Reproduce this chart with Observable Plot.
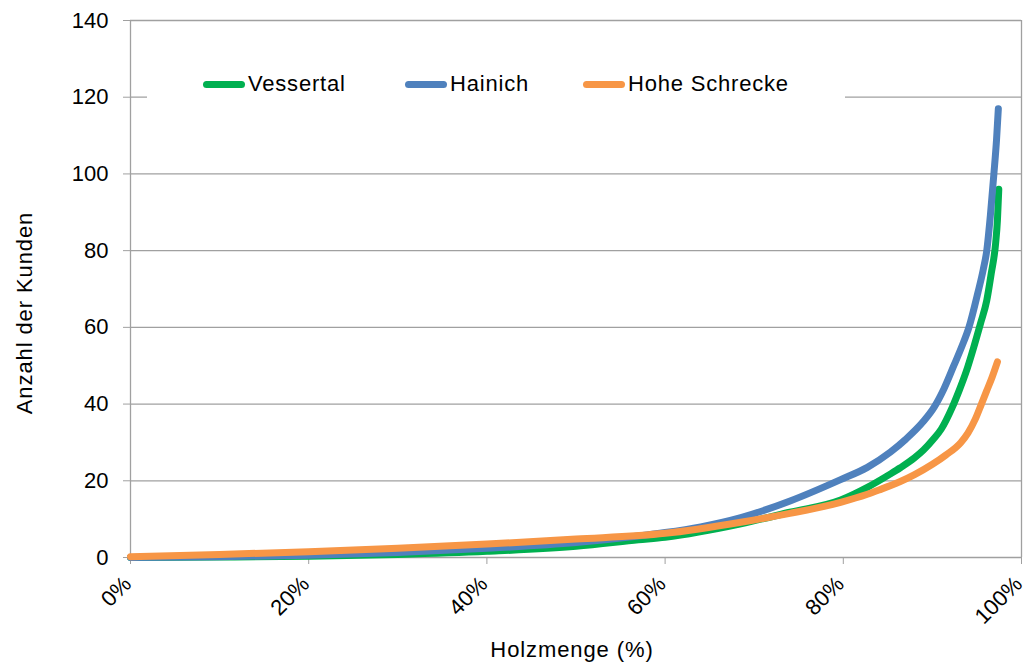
<!DOCTYPE html>
<html>
<head>
<meta charset="utf-8">
<script src="https://cdn.jsdelivr.net/npm/d3@7"></script>
<script src="https://cdn.jsdelivr.net/npm/@observablehq/plot@0.6"></script>
<style>
  html, body { margin: 0; padding: 0; background: #fff; }
  #wrap { position: relative; width: 1027px; height: 664px; font-family: "Liberation Sans", Arial, sans-serif; }
  #legend { position: absolute; left: 147px; top: 64px; width: 698px; height: 40px; background: #fff; }
  .item { position: absolute; top: 0; height: 40px; display: flex; align-items: center; font-size: 22px; letter-spacing: 0.8px; color: #000; }
  .sw { width: 42px; height: 7px; border-radius: 4px; margin-right: 3px; }
</style>
</head>
<body>
<div id="wrap"><div id="chart"></div><div id="legend"></div></div>
<script>
const seriesNames = ["Vessertal", "Hainich", "Hohe Schrecke"];
const seriesColors = ["#00B050", "#4F81BD", "#F79646"];

const vessertalX = [0, 10, 20, 30, 40, 50, 57, 60, 68.5, 74, 79.7, 82.7, 85.3, 86.4, 88, 89, 90.1, 91, 92.2, 93, 93.8, 94.6, 95.4, 96.1, 96.6, 97.1, 97.3, 97.45];
const vessertalY = [0, 0.1, 0.3, 0.8, 1.6, 2.9, 4.6, 5.3, 8.8, 11.8, 15.0, 18.3, 21.8, 23.4, 26.0, 28.0, 30.8, 33.5, 39, 43.5, 48.5, 54.5, 61, 67, 74, 82, 88, 96];

const hainichX = [0, 10, 20, 30, 40, 50, 57, 60, 64, 68.5, 74.1, 79.7, 82.7, 85.3, 87, 89, 90.2, 91.3, 92.4, 93.3, 94.1, 95.1, 95.7, 96.1, 96.5, 96.9, 97.2, 97.4];
const hainichY = [0, 0.2, 0.6, 1.3, 2.4, 3.9, 5.6, 6.5, 8.0, 10.4, 14.8, 20.3, 23.5, 27.5, 30.8, 35.5, 39.2, 44, 50, 55, 60, 69, 75, 80, 89, 100, 109, 117];

const schreckeX = [0, 10, 20, 30, 40, 50, 60, 68.5, 74, 79.7, 82.7, 84, 86.4, 88, 90, 91.5, 93.2, 94, 94.8, 95.5, 96.1, 96.7, 97.3];
const schreckeY = [0.2, 0.8, 1.5, 2.4, 3.5, 4.8, 6.3, 9.2, 11.5, 14.4, 16.5, 17.6, 19.8, 21.6, 24.3, 26.7, 30, 32.5, 36, 40, 43.5, 47, 51];

const xTicks = [0, 20, 40, 60, 80, 100];
const yTicks = [0, 20, 40, 60, 80, 100, 120, 140];

const data = [];
[[vessertalX, vessertalY], [hainichX, hainichY], [schreckeX, schreckeY]].forEach(([xs, ys], i) => {
  xs.forEach((x, j) => data.push({series: seriesNames[i], x, y: ys[j]}));
});

const gray = "#a0a0a0";

const chart = Plot.plot({
  width: 1027,
  height: 664,
  marginLeft: 130,
  marginRight: 6,
  marginTop: 20,
  marginBottom: 107,
  style: {fontFamily: "'Liberation Sans', Arial, sans-serif", fontSize: "22px", color: "#000", background: "#fff"},
  x: {domain: [0, 100]},
  y: {domain: [0, 140]},
  color: {domain: seriesNames, range: seriesColors},
  marks: [
    Plot.ruleY(yTicks.filter(d => d > 0), {stroke: gray, strokeWidth: 1.3}),
    Plot.ruleX([100], {stroke: gray, strokeWidth: 1.3}),
    Plot.ruleX([0], {stroke: gray, strokeWidth: 1.3}),
    Plot.ruleY([0], {stroke: gray, strokeWidth: 1.3}),
    Plot.axisY({ticks: yTicks, tickSize: 7, tickPadding: 15, stroke: gray, label: null}),
    Plot.axisX({ticks: xTicks, tickFormat: () => "", tickSize: 7, stroke: gray, label: null}),
    Plot.axisX({ticks: xTicks, tickFormat: d => d + "%", tickSize: 0, tickPadding: 23, tickRotate: -45, dx: -3, label: null}),
    Plot.line(data, {x: "x", y: "y", z: "series", stroke: "series", strokeWidth: 7, strokeLinecap: "round", strokeLinejoin: "round", curve: "monotone-x"})
  ]
});
document.getElementById("chart").appendChild(chart);

const svg = d3.select(chart);
svg.append("text")
  .attr("transform", "translate(24,313) rotate(-90)")
  .attr("text-anchor", "middle")
  .attr("dominant-baseline", "central")
  .attr("fill", "#000")
  .style("letter-spacing", "0.9px")
  .text("Anzahl der Kunden");
svg.append("text")
  .attr("x", 572)
  .attr("y", 649)
  .attr("text-anchor", "middle")
  .attr("dominant-baseline", "central")
  .attr("fill", "#000")
  .style("letter-spacing", "0.9px")
  .text("Holzmenge (%)");

const legend = document.getElementById("legend");
const itemLefts = [56, 258, 436];
seriesNames.forEach((name, i) => {
  const it = document.createElement("div");
  it.className = "item";
  it.style.left = itemLefts[i] + "px";
  const sw = document.createElement("div");
  sw.className = "sw";
  sw.style.background = seriesColors[i];
  const t = document.createElement("span");
  t.textContent = name;
  it.appendChild(sw);
  it.appendChild(t);
  legend.appendChild(it);
});
</script>
</body>
</html>
